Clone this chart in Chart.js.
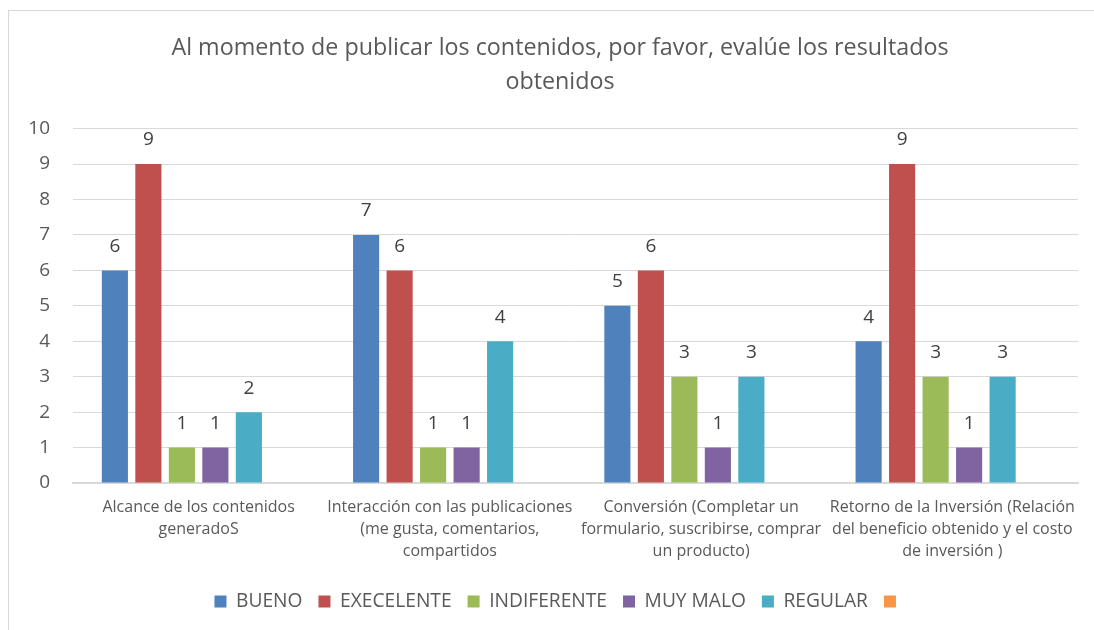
<!DOCTYPE html>
<html>
<head>
<meta charset="utf-8">
<script src="https://cdn.jsdelivr.net/npm/chart.js@4.4.1/dist/chart.umd.min.js"></script>
<style>
    html, body { margin: 0; padding: 0; background: #fff; overflow: hidden; }
    #frame {
        position: absolute; left: 8px; top: 10px;
        width: 1100px; height: 640px;
        border: 1px solid #d9d9d9;
    }
    #box { position: absolute; left: 0; top: 0; width: 1084px; height: 618px; }
</style>
</head>
<body>
<div id="frame"><div id="box"><canvas id="resultsChart"></canvas></div></div>
<script>
// Datos del gráfico
const categorias = [
    ['Alcance de los contenidos', 'generadoS'],
    ['Interacción con las publicaciones', '(me gusta, comentarios,', 'compartidos'],
    ['Conversión (Completar un', 'formulario, suscribirse, comprar', 'un producto)'],
    ['Retorno de la Inversión (Relación', 'del beneficio obtenido y el costo', 'de inversión )']
];
const bueno = [6, 7, 5, 4];
const excelente = [9, 6, 6, 9];
const indiferente = [1, 1, 3, 3];
const muyMalo = [1, 1, 1, 1];
const regular = [2, 4, 3, 3];
const sinNombre = [null, null, null, null];
const yTicks = [0, 1, 2, 3, 4, 5, 6, 7, 8, 9, 10];

const FONT = "'Open Sans', 'DejaVu Sans', sans-serif";

// Etiquetas de valor encima de cada barra
const valueLabels = {
    id: 'valueLabels',
    afterDatasetsDraw(chart) {
        const ctx = chart.ctx;
        ctx.save();
        ctx.font = '19px ' + FONT;
        ctx.fillStyle = '#404040';
        ctx.textAlign = 'center';
        ctx.textBaseline = 'middle';
        chart.data.datasets.forEach((ds, i) => {
            const meta = chart.getDatasetMeta(i);
            meta.data.forEach((bar, j) => {
                const v = ds.data[j];
                if (v === null || v === undefined) return;
                ctx.fillText(String(v), bar.x, bar.y - 24);
            });
        });
        ctx.restore();
    }
};

// El eje Y usa un ancho fijo; se amplía su zona hacia la izquierda para que no recorte las etiquetas
const wideYLabels = {
    id: 'wideYLabels',
    afterLayout(chart) {
        chart.scales.y.left = 0;
    }
};

const ds = (label, data, color) => ({
    label: label,
    data: data,
    backgroundColor: color,
    categoryPercentage: 0.8,
    barPercentage: 0.78
});

new Chart(document.getElementById('resultsChart'), {
    type: 'bar',
    data: {
        labels: categorias,
        datasets: [
            ds('BUENO', bueno, '#4f81bd'),
            ds('EXECELENTE', excelente, '#c0504d'),
            ds('INDIFERENTE', indiferente, '#9bbb59'),
            ds('MUY MALO', muyMalo, '#8064a2'),
            ds('REGULAR', regular, '#4bacc6'),
            ds('', sinNombre, '#f79646')
        ]
    },
    plugins: [valueLabels, wideYLabels],
    options: {
        responsive: true,
        maintainAspectRatio: false,
        animation: false,
        layout: { padding: { left: 33, right: 15, top: 0, bottom: 8 } },
        plugins: {
            title: {
                display: true,
                text: ['Al momento de publicar los contenidos, por favor, evalúe los resultados', 'obtenidos'],
                color: '#595959',
                font: { family: FONT, size: 23.3, weight: 'normal', lineHeight: 1.43 },
                padding: { top: 21, bottom: 30 }
            },
            legend: {
                display: true,
                position: 'bottom',
                labels: {
                    color: '#595959',
                    font: { family: FONT, size: 19.2 },
                    boxWidth: 12,
                    boxHeight: 12,
                    padding: 16
                }
            },
            tooltip: { enabled: false }
        },
        scales: {
            y: {
                min: 0,
                max: 10,
                afterFit(scale) { scale.width = 31; },
                afterBuildTicks(scale) { scale.ticks = yTicks.map(v => ({ value: v })); },
                ticks: {
                    color: '#595959',
                    font: { family: FONT, size: 19 },
                    padding: 23
                },
                grid: { color: '#d9d9d9', drawTicks: false },
                border: { display: false }
            },
            x: {
                ticks: {
                    color: '#595959',
                    font: { family: FONT, size: 16, lineHeight: 1.35 },
                    maxRotation: 0,
                    autoSkip: false,
                    padding: 14
                },
                grid: { display: false, drawTicks: false },
                border: { display: true, color: '#d9d9d9', width: 2 }
            }
        }
    }
});
</script>
</body>
</html>
